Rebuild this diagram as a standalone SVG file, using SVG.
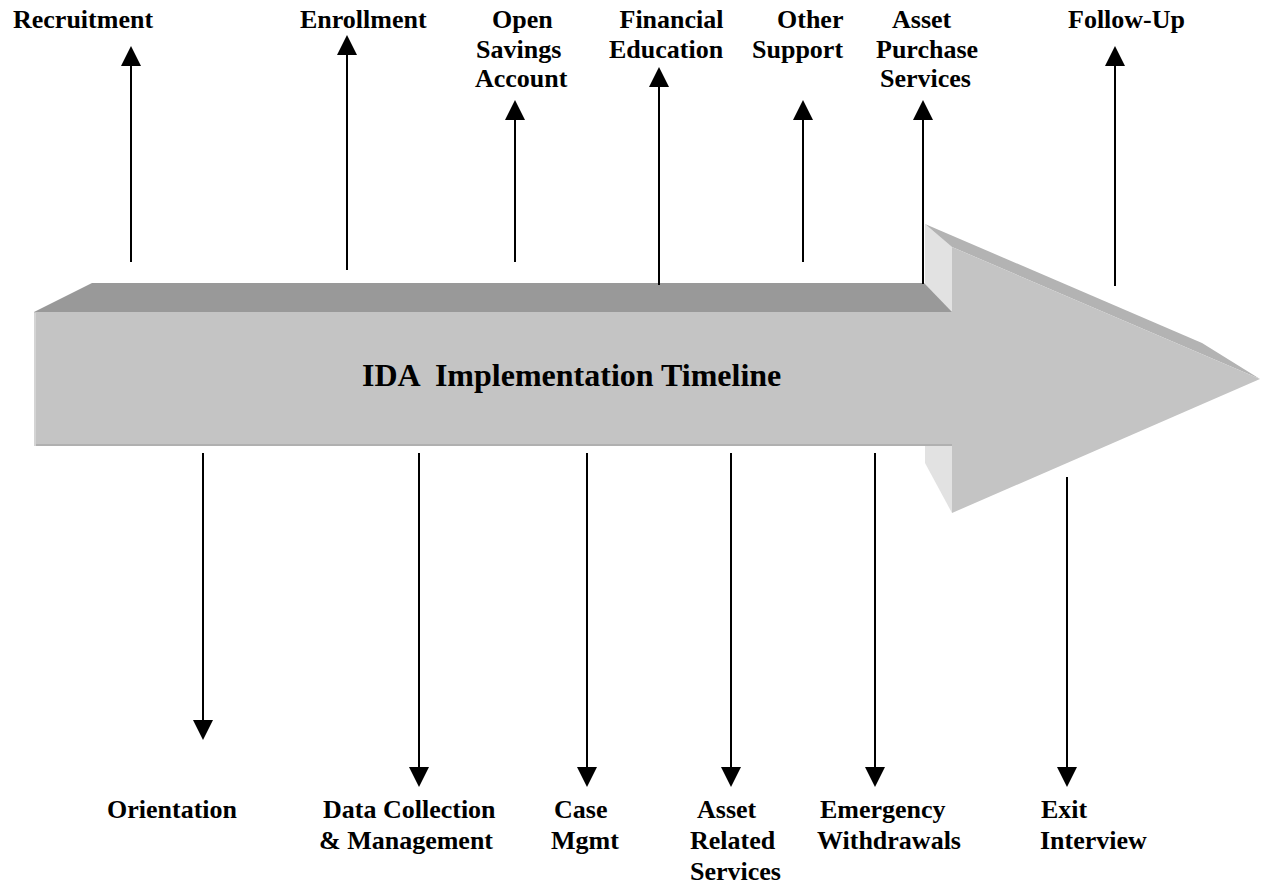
<svg xmlns="http://www.w3.org/2000/svg" width="1264" height="888" viewBox="0 0 1264 888">
<style>
text{font-family:"Liberation Serif","Times New Roman",serif;font-weight:bold;fill:#000}
.lbl{font-size:26px}
.title{font-size:32px}
.ln{stroke:#000;stroke-width:2;fill:none}
</style>
<defs>
<marker id="ah" viewBox="0 0 20 20" refX="16" refY="10" markerWidth="20" markerHeight="20" markerUnits="userSpaceOnUse" orient="auto">
<path d="M0,0 L20,10 L0,20 Z" fill="#000"/>
</marker>
</defs>
<rect width="1264" height="888" fill="#fff"/>
<g id="timeline-arrow">
<polygon points="925,224 952,247 952,513 925,463" fill="#e2e2e2"/>
<polygon points="34,312 92,283 924,283 952,312" fill="#999999"/>
<rect x="34" y="312" width="918" height="134" fill="#c4c4c4"/>
<polygon points="925,224 1202,343 1260,379 952,247" fill="#b3b3b3"/>
<polygon points="952,247 1260,379 952,513" fill="#c4c4c4"/>
<line x1="34" y1="445" x2="952" y2="445" stroke="#b0b0b0" stroke-width="2"/>
<line x1="35" y1="313" x2="35" y2="446" stroke="#d4d4d4" stroke-width="2"/>
<text class="title" x="362" y="386" xml:space="preserve">IDA  Implementation Timeline</text>
</g>
<g id="connectors">
<line class="ln" x1="131" y1="262" x2="131" y2="50" marker-end="url(#ah)"/>
<line class="ln" x1="347" y1="270" x2="347" y2="39" marker-end="url(#ah)"/>
<line class="ln" x1="515" y1="262" x2="515" y2="104" marker-end="url(#ah)"/>
<line class="ln" x1="659" y1="285" x2="659" y2="71" marker-end="url(#ah)"/>
<line class="ln" x1="803" y1="262" x2="803" y2="104" marker-end="url(#ah)"/>
<line class="ln" x1="923" y1="284" x2="923" y2="104" marker-end="url(#ah)"/>
<line class="ln" x1="1115" y1="286" x2="1115" y2="50" marker-end="url(#ah)"/>
<line class="ln" x1="203" y1="453" x2="203" y2="736" marker-end="url(#ah)"/>
<line class="ln" x1="419" y1="453" x2="419" y2="783" marker-end="url(#ah)"/>
<line class="ln" x1="587" y1="453" x2="587" y2="783" marker-end="url(#ah)"/>
<line class="ln" x1="731" y1="453" x2="731" y2="783" marker-end="url(#ah)"/>
<line class="ln" x1="875" y1="453" x2="875" y2="783" marker-end="url(#ah)"/>
<line class="ln" x1="1067" y1="477" x2="1067" y2="783" marker-end="url(#ah)"/>
</g>
<g id="recruitment"><text class="lbl" x="13" y="28">Recruitment</text></g>
<g id="enrollment"><text class="lbl" x="300" y="28">Enrollment</text></g>
<g id="open-savings"><text class="lbl" x="492" y="28">Open</text><text class="lbl" x="476" y="57.5">Savings</text><text class="lbl" x="475" y="87">Account</text></g>
<g id="financial-education"><text class="lbl" x="619.5" y="28">Financial</text><text class="lbl" x="609" y="57.5">Education</text></g>
<g id="other-support"><text class="lbl" x="777" y="28">Other</text><text class="lbl" x="752" y="57.5">Support</text></g>
<g id="asset-purchase"><text class="lbl" x="892" y="28">Asset</text><text class="lbl" x="876" y="57.5">Purchase</text><text class="lbl" x="880" y="87">Services</text></g>
<g id="follow-up"><text class="lbl" x="1068" y="28">Follow-Up</text></g>
<g id="orientation"><text class="lbl" x="107" y="818">Orientation</text></g>
<g id="data-collection"><text class="lbl" x="323" y="818">Data Collection</text><text class="lbl" x="319" y="849">&amp; Management</text></g>
<g id="case-mgmt"><text class="lbl" x="554" y="818">Case</text><text class="lbl" x="551" y="849">Mgmt</text></g>
<g id="asset-related"><text class="lbl" x="697" y="818">Asset</text><text class="lbl" x="690" y="849">Related</text><text class="lbl" x="690" y="880">Services</text></g>
<g id="emergency"><text class="lbl" x="820" y="818">Emergency</text><text class="lbl" x="817" y="849">Withdrawals</text></g>
<g id="exit-interview"><text class="lbl" x="1041" y="818">Exit</text><text class="lbl" x="1040" y="849">Interview</text></g>
</svg>
